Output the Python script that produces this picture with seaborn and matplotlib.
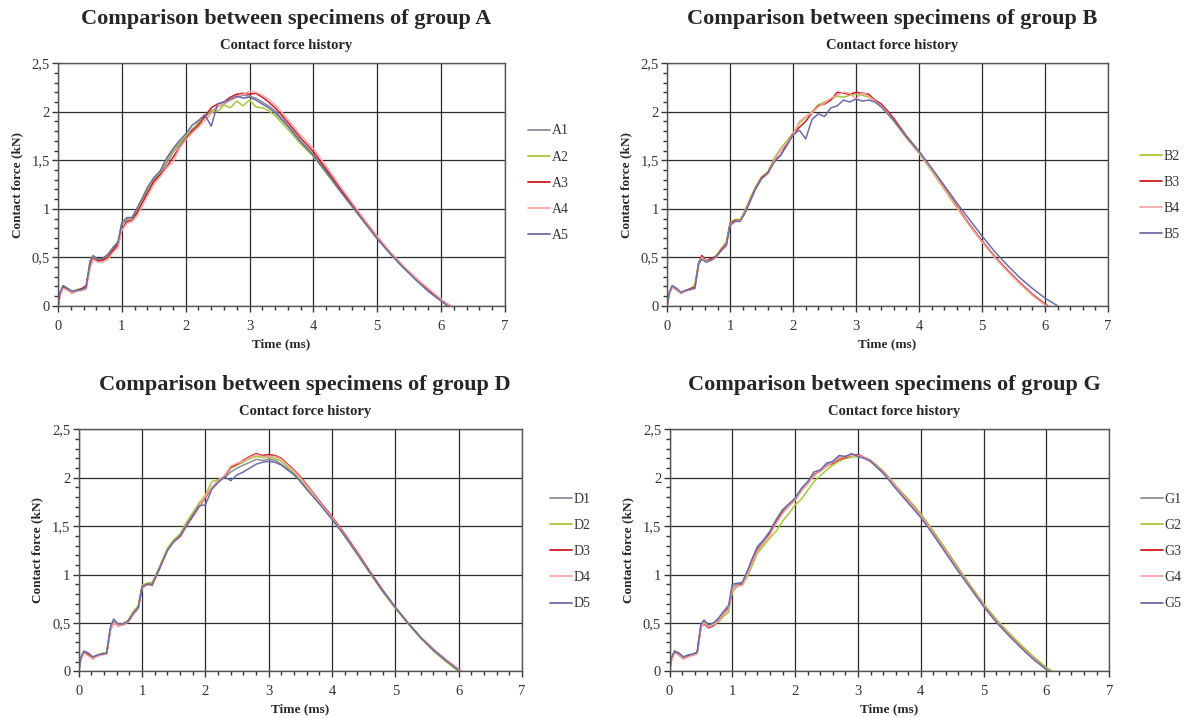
import numpy as np
import pandas as pd
import seaborn as sns
import matplotlib.pyplot as plt
from matplotlib.ticker import MultipleLocator, FuncFormatter

# shared time base (ms)
time_ms = [0.0, 0.03, 0.08, 0.15, 0.22, 0.3, 0.38, 0.44,
           0.5, 0.55, 0.62, 0.7, 0.78, 0.86, 0.94,
           1.0, 1.08, 1.16, 1.24, 1.32, 1.4,
           1.5, 1.6, 1.7, 1.8, 1.9,
           2.0, 2.1, 2.2, 2.3, 2.4, 2.5, 2.6, 2.7, 2.8, 2.9,
           3.0, 3.1, 3.2, 3.3, 3.4, 3.5, 3.6,
           3.8, 4.0, 4.2, 4.4, 4.6, 4.8,
           5.0, 5.2, 5.4, 5.6, 5.8,
           6.0, 6.1, 6.2]

# group A
A1 = [0.0, 0.13, 0.20, 0.18, 0.14, 0.16, 0.17, 0.20,
      0.42, 0.51, 0.47, 0.48, 0.50, 0.58, 0.64,
      0.84, 0.89, 0.90, 0.98, 1.08, 1.18,
      1.30, 1.36, 1.47, 1.58, 1.66,
      1.74, 1.82, 1.88, 1.95, 2.00, 2.05, 2.08, 2.12, 2.15, 2.17,
      2.16, 2.14, 2.10, 2.06, 2.01, 1.94, 1.86,
      1.70, 1.56, 1.39, 1.21, 1.04, 0.87,
      0.70, 0.55, 0.41, 0.28, 0.16,
      0.06, 0.01, -0.04]
A2 = [0.0, 0.12, 0.19, 0.17, 0.15, 0.17, 0.18, 0.19,
      0.45, 0.50, 0.48, 0.47, 0.52, 0.60, 0.66,
      0.86, 0.90, 0.91, 1.00, 1.10, 1.20,
      1.31, 1.38, 1.50, 1.60, 1.68,
      1.75, 1.80, 1.90, 1.94, 2.02, 2.00, 2.07, 2.04, 2.11, 2.06,
      2.12, 2.05, 2.04, 2.01, 1.96, 1.89, 1.82,
      1.67, 1.54, 1.37, 1.20, 1.03, 0.86,
      0.70, 0.54, 0.40, 0.28, 0.16,
      0.06, 0.01, -0.04]
A3 = [0.0, 0.11, 0.19, 0.17, 0.13, 0.16, 0.18, 0.21,
      0.40, 0.49, 0.46, 0.47, 0.50, 0.57, 0.63,
      0.79, 0.87, 0.88, 0.96, 1.06, 1.16,
      1.28, 1.35, 1.43, 1.53, 1.63,
      1.72, 1.80, 1.86, 1.95, 2.04, 2.08, 2.10, 2.15, 2.18, 2.19,
      2.18, 2.19, 2.15, 2.10, 2.04, 1.97, 1.89,
      1.73, 1.59, 1.41, 1.23, 1.05, 0.88,
      0.71, 0.55, 0.41, 0.29, 0.17,
      0.06, 0.02, -0.03]
A4 = [0.0, 0.10, 0.18, 0.16, 0.13, 0.15, 0.16, 0.17,
      0.38, 0.48, 0.45, 0.45, 0.48, 0.55, 0.60,
      0.78, 0.85, 0.87, 0.93, 1.03, 1.13,
      1.25, 1.33, 1.42, 1.48, 1.62,
      1.71, 1.78, 1.84, 1.91, 1.98, 2.05, 2.09, 2.12, 2.16, 2.18,
      2.21, 2.20, 2.17, 2.13, 2.07, 2.00, 1.92,
      1.76, 1.62, 1.44, 1.25, 1.07, 0.89,
      0.72, 0.56, 0.42, 0.29, 0.18,
      0.07, 0.02, -0.01]
A5 = [0.0, 0.14, 0.21, 0.18, 0.15, 0.16, 0.17, 0.19,
      0.46, 0.52, 0.48, 0.49, 0.53, 0.60, 0.66,
      0.86, 0.91, 0.91, 1.01, 1.11, 1.22,
      1.32, 1.39, 1.52, 1.62, 1.70,
      1.77, 1.86, 1.91, 1.97, 1.85, 2.08, 2.10, 2.13, 2.16, 2.14,
      2.15, 2.12, 2.08, 2.04, 1.99, 1.92, 1.85,
      1.69, 1.55, 1.38, 1.20, 1.03, 0.86,
      0.69, 0.54, 0.40, 0.27, 0.15,
      0.05, 0.00, -0.05]

# group B (no B1)
B2 = [0.0, 0.12, 0.20, 0.17, 0.14, 0.16, 0.18, 0.22,
      0.45, 0.50, 0.47, 0.48, 0.52, 0.59, 0.66,
      0.86, 0.89, 0.89, 0.99, 1.11, 1.22,
      1.33, 1.38, 1.52, 1.62, 1.70,
      1.78, 1.88, 1.94, 2.00, 2.07, 2.10, 2.13, 2.16, 2.15, 2.17,
      2.18, 2.17, 2.15, 2.11, 2.05, 1.98, 1.90,
      1.73, 1.57, 1.39, 1.20, 1.01, 0.83,
      0.66, 0.50, 0.36, 0.23, 0.11,
      0.01, -0.04, -0.1]
B3 = [0.0, 0.12, 0.20, 0.17, 0.13, 0.16, 0.18, 0.19,
      0.44, 0.52, 0.46, 0.49, 0.51, 0.58, 0.64,
      0.85, 0.88, 0.88, 0.97, 1.09, 1.21,
      1.32, 1.37, 1.50, 1.55, 1.67,
      1.77, 1.84, 1.90, 1.99, 2.06, 2.08, 2.12, 2.20, 2.19, 2.18,
      2.20, 2.19, 2.18, 2.12, 2.08, 2.01, 1.93,
      1.75, 1.59, 1.41, 1.22, 1.03, 0.84,
      0.67, 0.51, 0.37, 0.24, 0.12,
      0.02, -0.03, -0.1]
B4 = [0.0, 0.11, 0.19, 0.16, 0.13, 0.15, 0.17, 0.18,
      0.43, 0.50, 0.46, 0.47, 0.50, 0.57, 0.63,
      0.84, 0.87, 0.88, 0.97, 1.08, 1.20,
      1.31, 1.36, 1.50, 1.60, 1.68,
      1.76, 1.90, 1.95, 1.99, 2.05, 2.09, 2.14, 2.17, 2.20, 2.19,
      2.13, 2.20, 2.16, 2.11, 2.06, 1.99, 1.91,
      1.74, 1.58, 1.40, 1.21, 1.02, 0.83,
      0.66, 0.50, 0.36, 0.23, 0.11,
      0.01, -0.04, -0.1]
B5 = [0.0, 0.13, 0.21, 0.18, 0.14, 0.16, 0.17, 0.18,
      0.43, 0.48, 0.45, 0.47, 0.51, 0.57, 0.62,
      0.83, 0.87, 0.87, 0.96, 1.08, 1.20,
      1.31, 1.37, 1.48, 1.55, 1.65,
      1.76, 1.81, 1.72, 1.92, 1.98, 1.95, 2.04, 2.06, 2.12, 2.10,
      2.13, 2.11, 2.12, 2.10, 2.05, 1.98, 1.91,
      1.74, 1.59, 1.42, 1.24, 1.06, 0.89,
      0.72, 0.56, 0.42, 0.29, 0.18,
      0.08, 0.04, 0.0]

# group D
D1 = [0.0, 0.13, 0.21, 0.18, 0.14, 0.17, 0.18, 0.19,
      0.44, 0.52, 0.48, 0.49, 0.52, 0.60, 0.67,
      0.88, 0.90, 0.91, 1.02, 1.14, 1.26,
      1.35, 1.40, 1.52, 1.62, 1.72,
      1.80, 1.90, 1.97, 2.00, 2.06, 2.10, 2.13, 2.16, 2.19, 2.18,
      2.19, 2.18, 2.14, 2.09, 2.04, 1.97, 1.89,
      1.74, 1.58, 1.40, 1.21, 1.02, 0.83,
      0.66, 0.50, 0.35, 0.22, 0.11,
      0.01, -0.04, -0.1]
D2 = [0.0, 0.12, 0.20, 0.17, 0.14, 0.17, 0.19, 0.19,
      0.45, 0.51, 0.48, 0.49, 0.53, 0.62, 0.68,
      0.89, 0.91, 0.92, 1.03, 1.15, 1.27,
      1.36, 1.42, 1.54, 1.64, 1.74,
      1.82, 1.96, 1.98, 2.01, 2.10, 2.13, 2.16, 2.20, 2.22, 2.21,
      2.21, 2.20, 2.17, 2.11, 2.05, 1.98, 1.90,
      1.74, 1.58, 1.40, 1.21, 1.01, 0.82,
      0.65, 0.49, 0.34, 0.21, 0.10,
      0.0, -0.05, -0.1]
D3 = [0.0, 0.12, 0.20, 0.17, 0.13, 0.16, 0.18, 0.18,
      0.43, 0.50, 0.47, 0.48, 0.51, 0.59, 0.65,
      0.87, 0.90, 0.89, 1.01, 1.13, 1.25,
      1.34, 1.39, 1.50, 1.60, 1.70,
      1.80, 1.89, 1.96, 2.01, 2.11, 2.14, 2.18, 2.22, 2.25, 2.23,
      2.24, 2.23, 2.20, 2.14, 2.08, 2.01, 1.93,
      1.76, 1.60, 1.42, 1.23, 1.03, 0.84,
      0.66, 0.50, 0.35, 0.23, 0.12,
      0.02, -0.02, -0.1]
D4 = [0.0, 0.11, 0.19, 0.16, 0.13, 0.16, 0.17, 0.18,
      0.42, 0.50, 0.47, 0.48, 0.51, 0.59, 0.65,
      0.86, 0.89, 0.90, 1.01, 1.13, 1.25,
      1.34, 1.40, 1.51, 1.61, 1.71,
      1.81, 1.90, 1.97, 2.02, 2.12, 2.15, 2.17, 2.21, 2.24, 2.22,
      2.22, 2.22, 2.19, 2.13, 2.07, 2.00, 1.92,
      1.75, 1.59, 1.41, 1.22, 1.02, 0.83,
      0.66, 0.50, 0.35, 0.23, 0.12,
      0.02, -0.01, -0.1]
D5 = [0.0, 0.14, 0.21, 0.19, 0.15, 0.17, 0.18, 0.19,
      0.46, 0.54, 0.49, 0.49, 0.52, 0.60, 0.66,
      0.87, 0.90, 0.90, 1.01, 1.13, 1.25,
      1.34, 1.40, 1.51, 1.61, 1.71,
      1.72, 1.88, 1.95, 2.01, 1.97, 2.03, 2.06, 2.10, 2.14, 2.16,
      2.17, 2.16, 2.13, 2.08, 2.03, 1.96, 1.88,
      1.73, 1.57, 1.40, 1.21, 1.02, 0.83,
      0.66, 0.50, 0.35, 0.22, 0.11,
      0.01, -0.04, -0.1]

# group G
G1 = [0.0, 0.13, 0.21, 0.18, 0.14, 0.16, 0.18, 0.19,
      0.48, 0.52, 0.48, 0.49, 0.53, 0.60, 0.66,
      0.88, 0.90, 0.91, 1.02, 1.16, 1.27,
      1.35, 1.43, 1.56, 1.66, 1.72,
      1.78, 1.88, 1.95, 2.02, 2.08, 2.13, 2.17, 2.21, 2.22, 2.24,
      2.23, 2.21, 2.17, 2.11, 2.05, 1.98, 1.90,
      1.75, 1.60, 1.42, 1.23, 1.04, 0.86,
      0.68, 0.52, 0.38, 0.25, 0.13,
      0.02, -0.03, -0.1]
G2 = [0.0, 0.12, 0.20, 0.17, 0.13, 0.15, 0.17, 0.18,
      0.45, 0.50, 0.47, 0.48, 0.51, 0.57, 0.61,
      0.82, 0.88, 0.89, 0.98, 1.10, 1.22,
      1.30, 1.38, 1.45, 1.55, 1.63,
      1.72, 1.78, 1.87, 1.96, 2.02, 2.08, 2.13, 2.17, 2.20, 2.21,
      2.22, 2.21, 2.18, 2.13, 2.07, 2.00, 1.92,
      1.78, 1.63, 1.45, 1.26, 1.07, 0.88,
      0.70, 0.54, 0.40, 0.27, 0.15,
      0.04, 0.0, -0.06]
G3 = [0.0, 0.12, 0.20, 0.17, 0.13, 0.16, 0.17, 0.19,
      0.46, 0.49, 0.45, 0.47, 0.52, 0.59, 0.65,
      0.85, 0.88, 0.90, 1.01, 1.14, 1.25,
      1.33, 1.42, 1.54, 1.64, 1.71,
      1.77, 1.87, 1.94, 2.03, 2.07, 2.12, 2.15, 2.19, 2.21, 2.23,
      2.24, 2.21, 2.18, 2.12, 2.06, 1.99, 1.91,
      1.76, 1.61, 1.43, 1.24, 1.05, 0.86,
      0.68, 0.52, 0.38, 0.25, 0.13,
      0.02, -0.02, -0.1]
G4 = [0.0, 0.11, 0.19, 0.17, 0.13, 0.15, 0.17, 0.18,
      0.45, 0.50, 0.46, 0.48, 0.52, 0.59, 0.64,
      0.85, 0.88, 0.89, 1.00, 1.13, 1.24,
      1.33, 1.41, 1.53, 1.63, 1.71,
      1.77, 1.87, 1.94, 2.02, 2.07, 2.12, 2.16, 2.20, 2.22, 2.23,
      2.23, 2.21, 2.18, 2.12, 2.06, 1.99, 1.91,
      1.76, 1.61, 1.43, 1.24, 1.05, 0.86,
      0.68, 0.52, 0.38, 0.25, 0.13,
      0.02, -0.02, -0.1]
G5 = [0.0, 0.14, 0.21, 0.19, 0.15, 0.17, 0.18, 0.20,
      0.49, 0.53, 0.48, 0.50, 0.55, 0.62, 0.68,
      0.90, 0.91, 0.92, 1.04, 1.17, 1.29,
      1.36, 1.45, 1.57, 1.67, 1.73,
      1.79, 1.89, 1.96, 2.06, 2.08, 2.15, 2.17, 2.23, 2.22, 2.25,
      2.22, 2.20, 2.17, 2.11, 2.05, 1.97, 1.89,
      1.74, 1.59, 1.41, 1.22, 1.03, 0.85,
      0.67, 0.51, 0.37, 0.24, 0.12,
      0.02, -0.03, -0.1]

GREY, GREEN, RED, PINK, SLATE = '#8c8c9c', '#a6c83a', '#cc1a22', '#f2a8a8', '#6c6ca4'

groups = {
    'A': ({'A1': A1, 'A2': A2, 'A3': A3, 'A4': A4, 'A5': A5}, [GREY, GREEN, RED, PINK, SLATE]),
    'B': ({'B2': B2, 'B3': B3, 'B4': B4, 'B5': B5}, [GREEN, RED, PINK, SLATE]),
    'D': ({'D1': D1, 'D2': D2, 'D3': D3, 'D4': D4, 'D5': D5}, [GREY, GREEN, RED, PINK, SLATE]),
    'G': ({'G1': G1, 'G2': G2, 'G3': G3, 'G4': G4, 'G5': G5}, [GREY, GREEN, RED, PINK, SLATE]),
}

# axes rectangles in figure fraction [left, bottom, width, height], legend anchor
layout = {
    'A': ([0.049, 0.574, 0.377, 0.338], (1.04, 0.505)),
    'B': ([0.563, 0.574, 0.372, 0.338], (1.06, 0.455)),
    'D': ([0.0665, 0.065, 0.374, 0.337], (1.05, 0.495)),
    'G': ([0.565, 0.065, 0.371, 0.337], (1.06, 0.495)),
}

sns.set_style("white")
plt.rcParams['font.family'] = ['Liberation Serif', 'DejaVu Serif']

fig = plt.figure(figsize=(11.85, 7.18), dpi=100)

comma = FuncFormatter(lambda v, p: ('%g' % v).replace('.', ','))

for g, (series, palette) in groups.items():
    rect, anchor = layout[g]
    ax = fig.add_axes(rect)
    df = pd.concat([pd.DataFrame({'Time': time_ms, 'Force': vals, 'Specimen': name})
                    for name, vals in series.items()], ignore_index=True)
    sns.lineplot(data=df, x='Time', y='Force', hue='Specimen', palette=palette,
                 estimator=None, sort=False, linewidth=1.1, ax=ax)

    ax.set_xlim(0, 7)
    ax.set_ylim(0, 2.5)
    ax.xaxis.set_major_locator(MultipleLocator(1))
    ax.xaxis.set_minor_locator(MultipleLocator(0.2))
    ax.yaxis.set_major_locator(MultipleLocator(0.5))
    ax.yaxis.set_minor_locator(MultipleLocator(0.1))
    ax.yaxis.set_major_formatter(comma)
    ax.grid(True, which='major', color='#2b2b2b', linewidth=0.9)
    ax.set_axisbelow(True)
    for sp in ax.spines.values():
        sp.set_color('#555555')
        sp.set_linewidth(1.0)
    ax.tick_params(which='both', direction='out', color='#333333', labelsize=10.5,
                   bottom=True, left=True, labelcolor='#333333')
    ax.tick_params(which='major', length=4, width=1)
    ax.tick_params(which='minor', length=3, width=1)
    ax.tick_params(axis='x', pad=6)
    ax.tick_params(axis='y', pad=2)
    ax.set_xlabel('Time (ms)', fontsize=9.5, fontweight='bold', labelpad=4)
    ax.set_ylabel('Contact force (kN)', fontsize=9.5, fontweight='bold', labelpad=6)

    leg = ax.legend(loc='center left', bbox_to_anchor=anchor, frameon=False, fontsize=10,
                    handlelength=1.6, handletextpad=0.1, labelspacing=0.95, borderaxespad=0)
    for line in leg.get_lines():
        line.set_linewidth(1.3)
    for txt in leg.get_texts():
        txt.set_color('#333333')

    cx = rect[0] + rect[2] / 2 + 0.004
    top = rect[1] + rect[3]
    fig.text(cx, top + 0.062, f'Comparison between specimens of group {g}',
             ha='center', va='center', fontsize=16, fontweight='bold')
    fig.text(cx, top + 0.025, 'Contact force history',
             ha='center', va='center', fontsize=10.5, fontweight='bold')

fig.savefig('out.png', dpi=100)
